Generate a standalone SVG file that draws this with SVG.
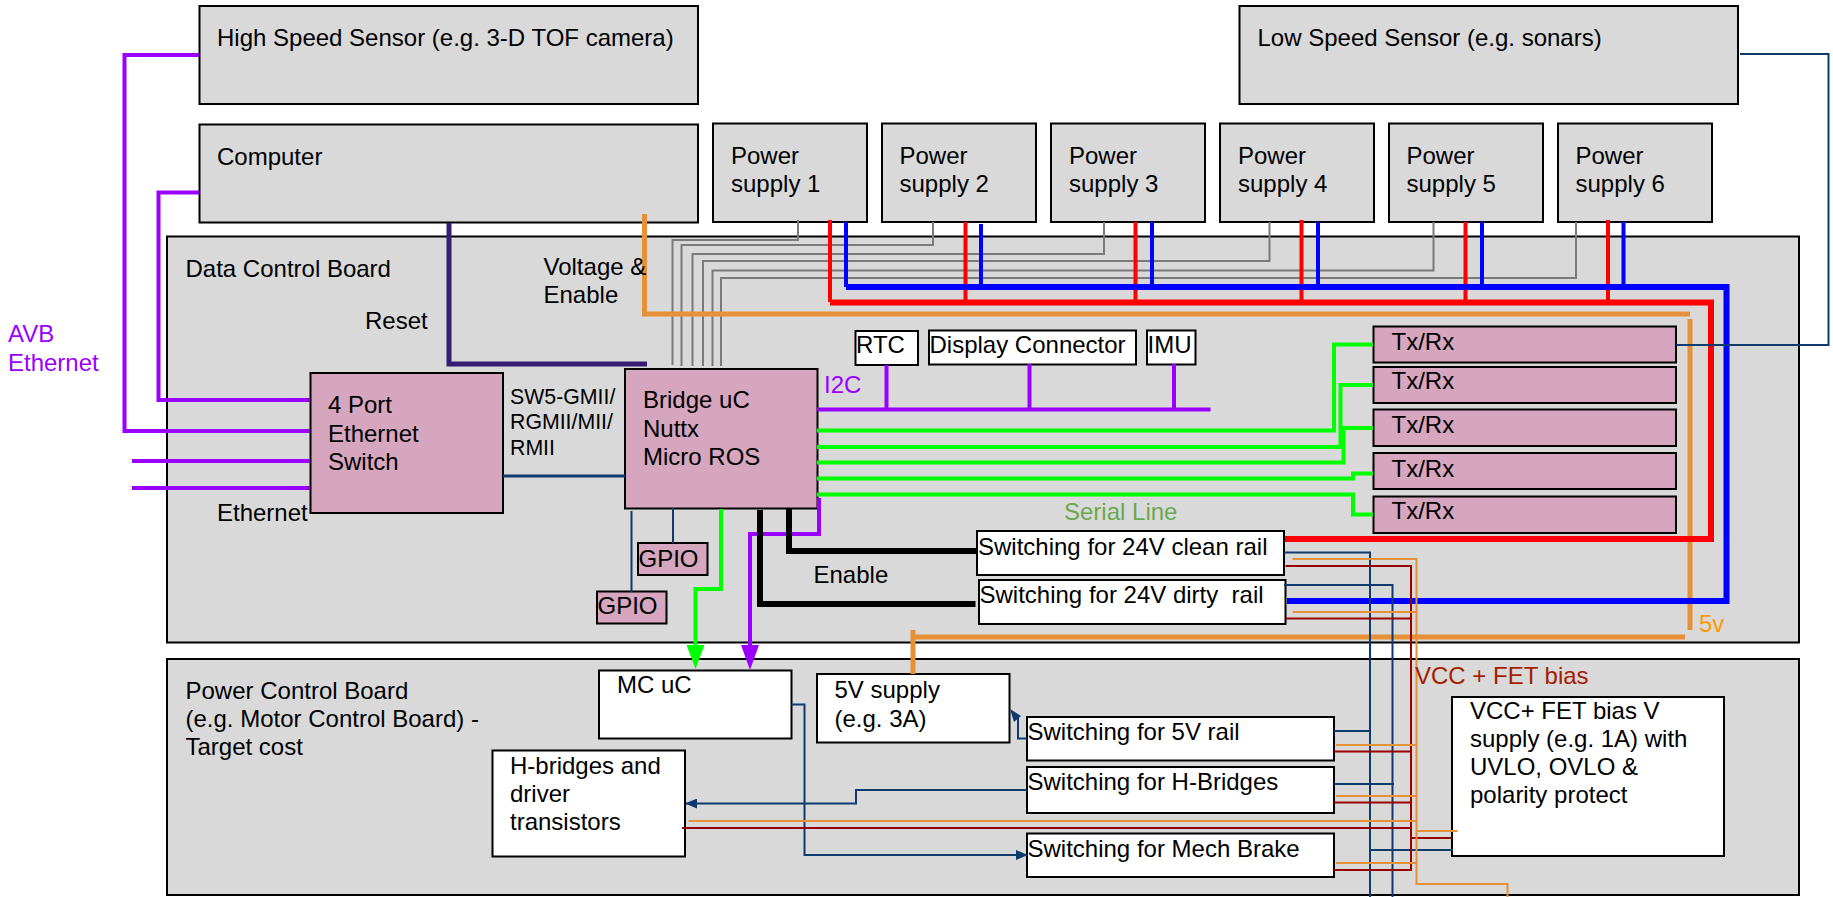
<svg xmlns="http://www.w3.org/2000/svg" width="1833" height="897" viewBox="0 0 1833 897">
<style>
text{font-family:"Liberation Sans",Arial,sans-serif;font-size:24px;fill:#000;white-space:pre;transform:translateY(-.7px)}
.g{fill:#d9d9d9;stroke:#000;stroke-width:2}
.p{fill:#d5a6bd;stroke:#000;stroke-width:2}
.w{fill:#fff;stroke:#000;stroke-width:2}
.c{fill:none;stroke-linejoin:miter}
.pur{stroke:#9900ff;stroke-width:4}
.dp{stroke:#351c75;stroke-width:5}
.or{stroke:#e69138;stroke-width:5}
.gr{stroke:#7a7a7a;stroke-width:2}
.red{stroke:#ff0000;stroke-width:4}
.redb{stroke:#ff0000;stroke-width:6}
.blu{stroke:#0000ff;stroke-width:4}
.blub{stroke:#0000ff;stroke-width:6}
.grn{stroke:#00ff00;stroke-width:4}
.blk{stroke:#000;stroke-width:6}
.nv{stroke:#0f3a6e;stroke-width:2}
.dr{stroke:#990000;stroke-width:2}
.ot{stroke:#e69138;stroke-width:2}
</style>
<defs>
<marker id="an" markerUnits="userSpaceOnUse" markerWidth="12" markerHeight="10" refX="11" refY="5" orient="auto"><path d="M0 0L12 5L0 10Z" fill="#0f3a6e"/></marker>
</defs>
<g id="data-board"><rect class="g" x="167" y="236.500" width="1632" height="406"/><text x="185.500" y="278">Data Control Board</text></g>
<g id="power-board"><rect class="g" x="167" y="659" width="1632" height="236"/><text x="185.500" y="700">Power Control Board</text><text x="185.500" y="728">(e.g. Motor Control Board) -</text><text x="185.500" y="756">Target cost</text></g>
<g id="high-speed-sensor"><rect class="g" x="199.500" y="6" width="498.500" height="98"/><text x="217" y="47">High Speed Sensor (e.g. 3-D TOF camera)</text></g>
<g id="low-speed-sensor"><rect class="g" x="1239.500" y="6" width="498.500" height="98"/><text x="1257.500" y="47">Low Speed Sensor (e.g. sonars)</text></g>
<g id="computer"><rect class="g" x="199.500" y="124.500" width="498.500" height="98"/><text x="217" y="166">Computer</text></g>
<g id="ps1"><rect class="g" x="713" y="123.500" width="154" height="98.500"/><text x="731" y="165">Power</text><text x="731" y="193">supply 1</text></g>
<g id="ps2"><rect class="g" x="882" y="123.500" width="154" height="98.500"/><text x="899.500" y="165">Power</text><text x="899.500" y="193">supply 2</text></g>
<g id="ps3"><rect class="g" x="1051" y="123.500" width="154" height="98.500"/><text x="1069" y="165">Power</text><text x="1069" y="193">supply 3</text></g>
<g id="ps4"><rect class="g" x="1220" y="123.500" width="154" height="98.500"/><text x="1238" y="165">Power</text><text x="1238" y="193">supply 4</text></g>
<g id="ps5"><rect class="g" x="1389" y="123.500" width="154" height="98.500"/><text x="1406.500" y="165">Power</text><text x="1406.500" y="193">supply 5</text></g>
<g id="ps6"><rect class="g" x="1558" y="123.500" width="154" height="98.500"/><text x="1575.500" y="165">Power</text><text x="1575.500" y="193">supply 6</text></g>
<g id="ethernet-switch"><rect class="p" x="310.500" y="373" width="192.500" height="140"/><text x="328" y="414">4 Port</text><text x="328" y="442.500">Ethernet</text><text x="328" y="470.500">Switch</text></g>
<g id="bridge-uc"><rect class="p" x="625" y="369" width="192.500" height="139.500"/><text x="643" y="409">Bridge uC</text><text x="643" y="437.500">Nuttx</text><text x="643" y="465.500">Micro ROS</text></g>
<g id="rtc"><rect class="w" x="855.500" y="331" width="62.500" height="34"/><text x="856" y="354">RTC</text></g>
<g id="display"><rect class="w" x="929" y="330.500" width="207" height="34"/><text x="929.500" y="354">Display Connector</text></g>
<g id="imu"><rect class="w" x="1147" y="330.500" width="48.500" height="34"/><text x="1147.500" y="354">IMU</text></g>
<g id="txrx1"><rect class="p" x="1373.500" y="326.500" width="302.500" height="36"/><text x="1391.500" y="351">Tx/Rx</text></g>
<g id="txrx2"><rect class="p" x="1373.500" y="367" width="302.500" height="36"/><text x="1391.500" y="390">Tx/Rx</text></g>
<g id="txrx3"><rect class="p" x="1373.500" y="409.500" width="302.500" height="36.500"/><text x="1391.500" y="433.500">Tx/Rx</text></g>
<g id="txrx4"><rect class="p" x="1373.500" y="453" width="302.500" height="36"/><text x="1391.500" y="477.500">Tx/Rx</text></g>
<g id="txrx5"><rect class="p" x="1373.500" y="496.500" width="302.500" height="36.500"/><text x="1391.500" y="520">Tx/Rx</text></g>
<g id="gpio1"><rect class="p" x="638" y="543" width="69.500" height="32"/><text x="638.500" y="567.500">GPIO</text></g>
<g id="gpio2"><rect class="p" x="597" y="591.500" width="69.500" height="32"/><text x="597.500" y="615">GPIO</text></g>
<g id="sw-clean"><rect class="w" x="977" y="531" width="307" height="44"/><text x="978" y="556">Switching for 24V clean rail</text></g>
<g id="sw-dirty"><rect class="w" x="979" y="580" width="306.500" height="44"/><text x="979.500" y="603.500">Switching for 24V dirty  rail</text></g>
<g id="mc-uc"><rect class="w" x="599" y="670.500" width="192.500" height="68"/><text x="617" y="694">MC uC</text></g>
<g id="supply-5v"><rect class="w" x="817" y="674" width="192.500" height="68.500"/><text x="834.500" y="699">5V supply</text><text x="834.500" y="727.500">(e.g. 3A)</text></g>
<g id="sw-5v"><rect class="w" x="1027" y="717" width="307" height="43.500"/><text x="1027.500" y="741">Switching for 5V rail</text></g>
<g id="sw-hb"><rect class="w" x="1027" y="767" width="307" height="46"/><text x="1027.500" y="791">Switching for H-Bridges</text></g>
<g id="sw-mech"><rect class="w" x="1027" y="833.500" width="307" height="43.500"/><text x="1027.500" y="857.500">Switching for Mech Brake</text></g>
<g id="h-bridges"><rect class="w" x="492.500" y="750.500" width="192.500" height="106"/><text x="510" y="774.500">H-bridges and</text><text x="510" y="802.500">driver</text><text x="510" y="830.500">transistors</text></g>
<g id="vcc-supply"><rect class="w" x="1452" y="697" width="272" height="159"/><text x="1470" y="720">VCC+ FET bias V</text><text x="1470" y="748">supply (e.g. 1A) with</text><text x="1470" y="776">UVLO, OVLO &amp;</text><text x="1470" y="804">polarity protect</text></g>
<g id="connectors" class="c">
<path class="c pur" d="M199 55H124.500V431H310"/>
<path class="c pur" d="M199 192.500H158.500V400H310"/>
<path class="c pur" d="M132 461H310M132 488H310"/>
<path class="c dp" d="M449 223V364H647"/>
<path class="c gr" d="M798 220V240H672.500V365M933 222V245H681.500V366M1104 222V254H692.500V366M1269.500 222V261H703V366M1433.500 222V270.500H712.500V366M1576 222V278H721V366"/>
<path class="c or" d="M644.500 214V314H1690M1690 319V630M1685 637H913M913 630V674"/>
<path class="c red" d="M965.500 222V302M1135.500 222V302M1301.500 220V302M1465.500 222V302M1608 220V302M830 220V302"/>
<path class="c blu" d="M981 224V287M1152 222V287M1318 222V287M1482 222V287M1623.500 222V287M846 222V287"/>
<path class="c redb" d="M830 302.500H1711V539H1285"/>
<path class="c blub" d="M846 287H1726.500V601H1287"/>
<path class="c pur" d="M817 409.500H1210.500M886.500 365V409.500M1029.500 364V409.500M1174 364V409.500"/>
<path class="c grn" d="M817 430.500H1334V344.500H1373"/>
<path class="c grn" d="M817 447H1340.500V385H1373"/>
<path class="c grn" d="M817 462.500H1343.500V428H1373"/>
<path class="c grn" d="M817 478.500H1353V473.500H1373"/>
<path class="c grn" d="M817 494.500H1353V514.500H1373"/>
<path class="c grn" d="M721 509V589H695.500V648"/>
<path class="c pur" d="M819 498V534H750V648"/>
<path fill="#00ff00" d="M686.500 645H704.500L695.500 669Z"/>
<path fill="#9900ff" d="M741 645H759L750 670Z"/>
<path class="c blk" d="M760 510V604H975.500M789 509V551H978"/>
<path class="c nv" d="M503 476H625" style="stroke-width:3"/>
<path class="c nv" d="M1676 345H1828.500V54H1740"/>
<path class="c nv" d="M673 508V543M631.500 511V592"/>
<path class="c nv" d="M791.500 704.500H804.500V855H1027" marker-end="url(#an)"/>
<path class="c nv" d="M1027 738.500H1018V717"/>
<path fill="#0f3a6e" d="M1010 709L1021 716L1014 722Z"/>
<path class="c nv" d="M1027 790H856V803.500H686" marker-end="url(#an)"/>
<path class="c nv" d="M1284 552.500H1370V897M1284 585H1392.500V897M1334 731H1370M1334 784H1394M1371 850H1453"/>
<path class="c dr" d="M1285.500 566H1411V870H1334M1285.500 618.500H1411M1334 751.500H1411M1334 802.500H1411M682 828H1411M1411 838H1452"/>
<path class="c ot" d="M1292.500 559H1416.500V884H1507.500V897M1292.500 612H1416.500M1336 745H1416.500M1336 796H1416.500M688.500 821H1416.500M1336 863H1416.500M1416.500 831H1457.500"/>
</g>
<g id="labels">
<text x="8" y="343" style="fill:#9900ff">AVB</text><text x="8" y="371.500" style="fill:#9900ff">Ethernet</text>
<text x="365" y="330">Reset</text>
<text x="543.500" y="275.500">Voltage &amp;</text><text x="543.500" y="303.500">Enable</text>
<text x="510" y="405" style="font-size:21.300px">SW5-GMII/</text><text x="510" y="430" style="font-size:21.300px">RGMII/MII/</text><text x="510" y="456" style="font-size:21.300px">RMII</text>
<text x="217" y="522">Ethernet</text>
<text x="824" y="394" style="fill:#9900ff">I2C</text>
<text x="1064" y="521" style="fill:#6aa84f">Serial Line</text>
<text x="813.500" y="583.500">Enable</text>
<text x="1699" y="633" style="fill:#ff9900">5v</text>
<text x="1415" y="685" style="fill:#a61c00">VCC + FET bias</text>
</g>
</svg>
